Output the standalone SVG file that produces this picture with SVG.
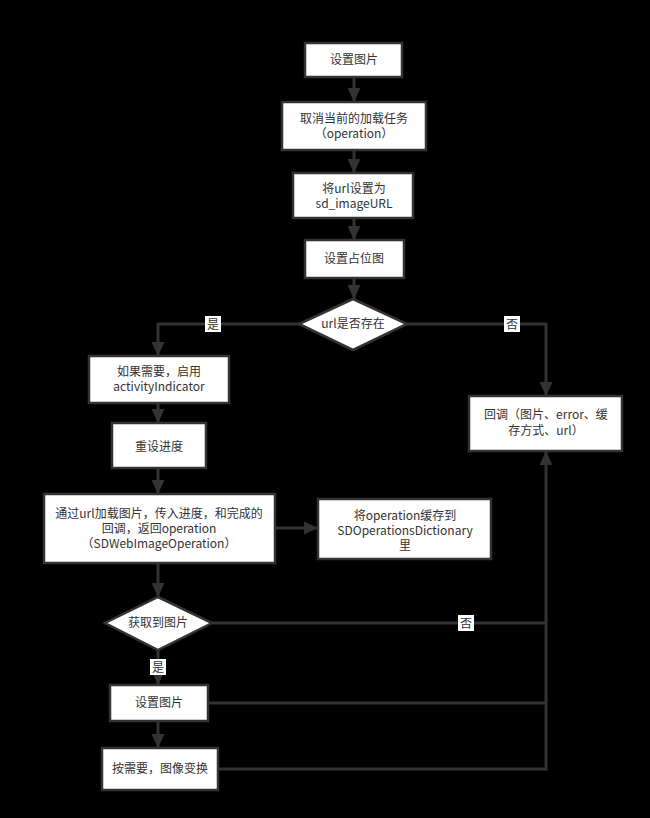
<svg xmlns="http://www.w3.org/2000/svg" width="650" height="818" viewBox="0 0 650 818">
<defs>
<marker id="ah" viewBox="0 0 14 13" refX="14" refY="6.5" markerWidth="14" markerHeight="13" markerUnits="userSpaceOnUse" orient="auto">
<path d="M0,0 L14,6.5 L0,13 Z" fill="#333"/>
</marker>
<style>
.n{fill:#fff;stroke:#333;stroke-width:2.5}
.t{font-family:"Noto Sans CJK SC","Microsoft YaHei",sans-serif;font-size:12px;fill:#333;text-anchor:middle}
.c{fill:none;stroke:#333;stroke-width:3}
.lb{fill:#fff}
</style>
</defs>
<rect x="0" y="0" width="650" height="818" fill="#000"/>
<g id="connectors">
<path class="c" d="M354,77 L354,102" marker-end="url(#ah)"/>
<path class="c" d="M354,150 L354,173" marker-end="url(#ah)"/>
<path class="c" d="M354,218 L354,240" marker-end="url(#ah)"/>
<path class="c" d="M354,278 L354,299" marker-end="url(#ah)"/>
<path class="c" d="M299,324 L158,324 L158,356" marker-end="url(#ah)"/>
<path class="c" d="M407,324 L546,324 L546,396" marker-end="url(#ah)"/>
<path class="c" d="M158,403 L158,423" marker-end="url(#ah)"/>
<path class="c" d="M158,468 L158,494" marker-end="url(#ah)"/>
<path class="c" d="M275,528 L318,528" marker-end="url(#ah)"/>
<path class="c" d="M158,563 L158,597" marker-end="url(#ah)"/>
<path class="c" d="M158,650 L158,685" marker-end="url(#ah)"/>
<path class="c" d="M158,721 L158,748" marker-end="url(#ah)"/>
<path class="c" d="M212,623 L546,623"/>
<path class="c" d="M208,703 L546,703"/>
<path class="c" d="M218,769 L546,769 L546,451" marker-end="url(#ah)"/>
<rect class="lb" x="205" y="316" width="16" height="16"/>
<text class="t" x="213" y="329" font-size="13">是</text>
<rect class="lb" x="504" y="316" width="16" height="16"/>
<text class="t" x="512" y="329" font-size="13">否</text>
<rect class="lb" x="458" y="615" width="16" height="16"/>
<text class="t" x="466" y="628" font-size="13">否</text>
<rect class="lb" x="150" y="659" width="16" height="16"/>
<text class="t" x="158" y="672" font-size="13">是</text>
</g>
<g id="n1"><rect class="n" x="305" y="43" width="97" height="34"/><text class="t" x="354" y="64">设置图片</text></g>
<g id="n2"><rect class="n" x="282" y="102" width="144" height="48"/><text class="t" x="354" y="123">取消当前的加载任务<tspan x="354" dy="15">（operation）</tspan></text></g>
<g id="n3"><rect class="n" x="293" y="173" width="120" height="45"/><text class="t" x="354" y="193">将url设置为<tspan x="354" dy="15">sd_imageURL</tspan></text></g>
<g id="n4"><rect class="n" x="305" y="240" width="99" height="38"/><text class="t" x="354" y="263">设置占位图</text></g>
<g id="d1"><path class="n" d="M353,299 L407,324 L353,350 L299,324 Z"/><text class="t" x="353" y="328">url是否存在</text></g>
<g id="n5"><rect class="n" x="89" y="356" width="140" height="47"/><text class="t" x="159" y="376">如果需要，启用<tspan x="159" dy="15">activityIndicator</tspan></text></g>
<g id="n6"><rect class="n" x="112" y="423" width="94" height="45"/><text class="t" x="159" y="451">重设进度</text></g>
<g id="n7"><rect class="n" x="469" y="396" width="153" height="55"/><text class="t" x="546" y="419">回调（图片、error、缓<tspan x="546" dy="16">存方式、url）</tspan></text></g>
<g id="n8"><rect class="n" x="44" y="494" width="231" height="69"/><text class="t" x="159" y="518">通过url加载图片，传入进度，和完成的<tspan x="159" dy="15">回调，返回operation</tspan><tspan x="159" dy="15">（SDWebImageOperation）</tspan></text></g>
<g id="n9"><rect class="n" x="318" y="499" width="173" height="60"/><text class="t" x="405" y="520">将operation缓存到<tspan x="405" dy="15">SDOperationsDictionary</tspan><tspan x="405" dy="15">里</tspan></text></g>
<g id="d2"><path class="n" d="M158,597 L212,623 L158,650 L105,623 Z"/><text class="t" x="158" y="627">获取到图片</text></g>
<g id="n10"><rect class="n" x="110" y="685" width="98" height="36"/><text class="t" x="159" y="707">设置图片</text></g>
<g id="n11"><rect class="n" x="102" y="748" width="116" height="42"/><text class="t" x="160" y="773">按需要，图像变换</text></g>
</svg>
